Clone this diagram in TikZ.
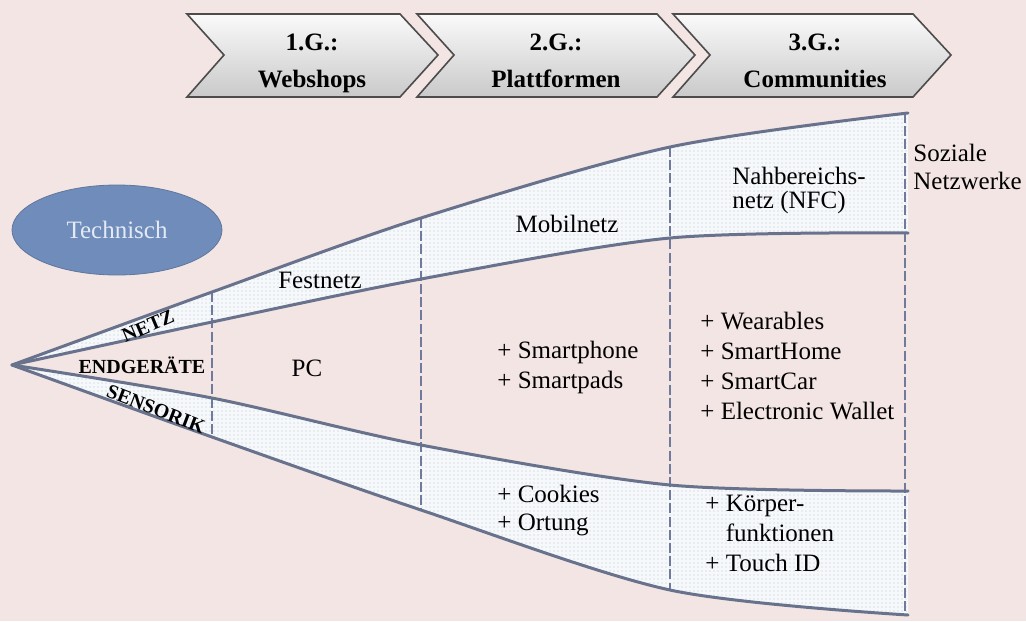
\documentclass[tikz,border=0pt]{standalone}
\usepackage{fontspec}
\setmainfont{Liberation Serif}
\usetikzlibrary{shapes.geometric,patterns}

\definecolor{bgpink}{RGB}{243,229,227}
\definecolor{techblue}{RGB}{112,140,186}
\definecolor{techtext}{RGB}{226,234,246}
\definecolor{rimcol}{RGB}{104,114,140}
\definecolor{sepcol}{RGB}{112,122,156}
\definecolor{bandfill}{RGB}{246,249,252}
\definecolor{dotgray}{RGB}{190,192,196}

% fine dot raster for the bands
\pgfdeclarepatternformonly{finedots}{\pgfpoint{-.1pt}{-.1pt}}{\pgfpoint{2.1pt}{2.1pt}}{\pgfpoint{2pt}{2pt}}{%
  \pgfpathcircle{\pgfpoint{1pt}{1pt}}{.3pt}\pgfusepath{fill}}

\begin{document}
\begin{tikzpicture}[x=0.5pt, y=-0.5pt,
  band/.style={preaction={fill=bandfill}, pattern=finedots, pattern color=dotgray},
  rim/.style={draw=rimcol, line width=1.5pt, line join=round, line cap=round},
  sep/.style={draw=sepcol, line width=1.1pt, dash pattern=on 5pt off 1.6pt},
  chev/.style={draw=gray!60!black, line width=.8pt, top color=gray!4, bottom color=gray!42},
  gen/.style={font=\bfseries\fontsize{12.5}{15}\selectfont, anchor=base, inner sep=0pt},
  txt/.style={font=\fontsize{12.5}{15}\selectfont, align=left, inner sep=0pt},
  lyr/.style={font=\bfseries\fontsize{10}{12}\selectfont, inner sep=0pt}]
\fill[bgpink] (0,0) rectangle (1026,621);
\useasboundingbox (0,0) rectangle (1026,621);

% generations
\foreach \l/\r in {187/400, 417/657, 673/913}
  \draw[chev] (\l,14) -- (\r,14) -- (\r+38,55) -- (\r,97) -- (\l,97) -- (\l+37,55) -- cycle;
\node[gen] (g1a) at (312,50) {1.G.:};
\node[gen] (g1b) at (312,87) {Webshops};
\node[gen] (g2a) at (556,50) {2.G.:};
\node[gen] (g2b) at (556,87) {Plattformen};
\node[gen] (g3a) at (815,50) {3.G.:};
\node[gen] (g3b) at (815,87) {Communities};

% bands
\path[band] plot[smooth] coordinates {(12,365) (212,292) (421,218) (670,147) (908,113)}
  -- plot[smooth] coordinates {(908,233) (670,238) (421,279) (212,322) (12,365)} -- cycle;
\path[band] plot[smooth] coordinates {(12,365) (212,398) (421,445) (670,485) (908,491)}
  -- plot[smooth] coordinates {(908,615) (670,590) (421,510) (212,437) (12,365)} -- cycle;

% phase borders
\foreach \x/\a/\b in {212/292/437, 421/218/510, 670/147/590, 905/113/615}
  \draw[sep] (\x,\a) -- (\x,\b);

\draw[rim] plot[smooth] coordinates {(12,365) (212,292) (421,218) (670,147) (908,113)};
\draw[rim] plot[smooth] coordinates {(12,365) (212,322) (421,279) (670,238) (908,233)};
\draw[rim] plot[smooth] coordinates {(12,365) (212,398) (421,445) (670,485) (908,491)};
\draw[rim] plot[smooth] coordinates {(12,365) (212,437) (421,510) (670,590) (908,615)};

\node[ellipse, fill=techblue, draw=techblue!85!black, minimum width=105pt, minimum height=45pt,
  inner sep=0pt, text=techtext, font=\fontsize{12.5}{15}\selectfont] (tech) at (117,230) {Technisch};

% layer names
\node[lyr, rotate=23] (netz) at (148,326) {NETZ};
\node[lyr] (endg) at (142,365) {ENDGERÄTE};
\node[lyr, rotate=-21] (sens) at (156,409) {SENSORIK};

% contents
\node[txt] (festnetz) at (320,280) {Festnetz};
\node[txt] (mobil) at (567,224) {Mobilnetz};
\node[txt, anchor=west, font=\fontsize{12.5}{12}\selectfont] (nfc) at (732,190) {Nahbereichs-\\netz (NFC)};
\node[txt, anchor=west, font=\fontsize{12.5}{14}\selectfont] (sozial) at (913,167) {Soziale\\Netzwerke};
\node[txt] (pc) at (307,368) {PC};
\node[txt, anchor=west] (phone) at (497,367) {+ Smartphone\\+ Smartpads};
\node[txt, anchor=west] (wear) at (700,366) {+ Wearables\\+ SmartHome\\+ SmartCar\\+ Electronic Wallet};
\node[txt, anchor=west, font=\fontsize{12.5}{14}\selectfont] (cookies) at (497,511) {+ Cookies\\+ Ortung};
\node[txt, anchor=west] (koerper) at (705,533) {+ Körper-\\\phantom{+ }funktionen\\+ Touch ID};
\end{tikzpicture}
\end{document}
